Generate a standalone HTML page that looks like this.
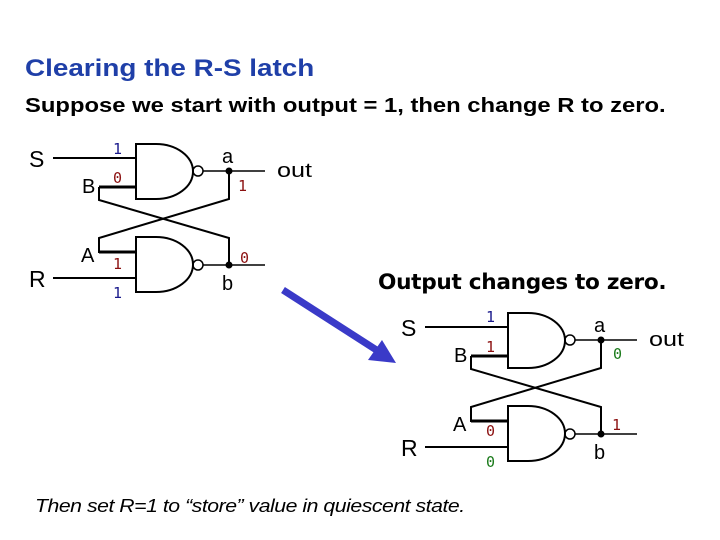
<!DOCTYPE html>
<html><head><style>
body{margin:0;width:720px;height:540px;background:#fff;overflow:hidden;position:relative;font-family:"Liberation Sans",sans-serif}
.t{position:absolute;white-space:nowrap;transform-origin:0 0}
</style></head><body>
<div class="t" style="left:25px;top:55px;font-size:24px;font-weight:bold;color:#1f3fa8;transform:scaleX(1.16)">Clearing the R-S latch</div>
<div class="t" style="left:25px;top:95px;font-size:20px;font-weight:bold;color:#000;transform:scaleX(1.19)">Suppose we start with output = 1, then change R to zero.</div>
<div class="t" style="left:378px;top:270px;font-size:21px;font-weight:bold;color:#000;font-family:'DejaVu Sans',sans-serif;letter-spacing:-0.3px;transform:scaleX(1.03)">Output changes to zero.</div>
<div class="t" style="left:35px;top:496px;font-size:18px;font-style:italic;color:#000;letter-spacing:-0.4px;transform:scaleX(1.18)">Then set R=1 to “store” value in quiescent state.</div>
<svg width="720" height="540" style="position:absolute;left:0;top:0" font-family="Liberation Sans, sans-serif">
<defs>
<g id="latch" fill="none" stroke="#000">
<line x1="53" y1="158" x2="136" y2="158" stroke-width="2"/>
<line x1="99" y1="187" x2="136" y2="187" stroke-width="3"/>
<path d="M99,187 V200 L229,238 V265" stroke-width="2"/>
<path d="M229,171 V199 L99,238 V252 H136" stroke-width="2"/>
<line x1="99" y1="252" x2="136" y2="252" stroke-width="3"/>
<line x1="53" y1="278" x2="136" y2="278" stroke-width="2"/>
<path d="M136,144 H156 A37 27.5 0 0 1 193 171.5 A37 27.5 0 0 1 156 199 H136 Z" stroke-width="2"/>
<path d="M136,237 H156 A37 27.5 0 0 1 193 264.5 A37 27.5 0 0 1 156 292 H136 Z" stroke-width="2"/>
<circle cx="198" cy="171" r="5" stroke-width="1.5"/>
<circle cx="198" cy="265" r="5" stroke-width="1.5"/>
<line x1="203" y1="171" x2="265" y2="171" stroke-width="1.5"/>
<line x1="203" y1="265" x2="265" y2="265" stroke-width="1.5"/>
<circle cx="229" cy="171" r="3" fill="#000"/>
<circle cx="229" cy="265" r="3" fill="#000"/>
<g fill="#000" stroke="none" font-size="23">
<text x="29" y="167">S</text><text x="29" y="287">R</text>
</g>
<g fill="#000" stroke="none" font-size="20">
<text x="82" y="193">B</text><text x="81" y="262">A</text>
<text x="222" y="163">a</text><text x="222" y="290">b</text>
<text x="277" y="177" textLength="35" lengthAdjust="spacingAndGlyphs">out</text>
</g>
</g>
</defs>
<use href="#latch"/>
<use href="#latch" transform="translate(372,169)"/>
<g font-size="15" font-family="DejaVu Sans Mono, monospace">
<text x="113" y="154" fill="#1a1a8c">1</text>
<text x="113" y="183" fill="#8b1010">0</text>
<text x="238" y="191" fill="#8b1010">1</text>
<text x="240" y="263" fill="#8b1010">0</text>
<text x="113" y="269" fill="#8b1010">1</text>
<text x="113" y="298" fill="#1a1a8c">1</text>
<text x="486" y="322" fill="#1a1a8c">1</text>
<text x="486" y="352" fill="#8b1010">1</text>
<text x="613" y="359" fill="#1a7a1a">0</text>
<text x="486" y="436" fill="#8b1010">0</text>
<text x="612" y="430" fill="#8b1010">1</text>
<text x="486" y="467" fill="#1a7a1a">0</text>
</g>
<line x1="283" y1="290" x2="378" y2="351" stroke="#3a3ac8" stroke-width="7"/>
<polygon points="396,363 368,360 382,340" fill="#3a3ac8"/>
</svg>
</body></html>
